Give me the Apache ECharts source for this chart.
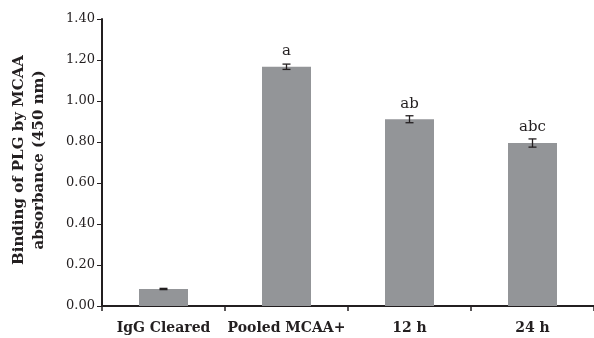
<!DOCTYPE html>
<html>
<head>
<meta charset="utf-8">
<script src="https://cdn.jsdelivr.net/npm/echarts@6/dist/echarts.min.js"></script>
<style>
  html, body { margin: 0; padding: 0; background: #fff; }
  #chart { width: 594px; height: 338px; }
</style>
</head>
<body>
<div id="chart"></div>
<script>
// Plasminogen binding by MCAA, absorbance at 450 nm
const categories = ['IgG Cleared', 'Pooled MCAA+', '12 h', '24 h'];
const absorbance = [0.083, 1.167, 0.911, 0.795];
const stdError = [0.003, 0.013, 0.017, 0.020];
const significance = ['', 'a', 'ab', 'abc'];
const yTicks = { min: 0, max: 1.4, interval: 0.2 };

const serif = "'DejaVu Serif', 'Liberation Serif', serif";
const ink = '#231f20';

const chart = echarts.init(document.getElementById('chart'), null, { renderer: 'canvas' });

chart.setOption({
  animation: false,
  backgroundColor: '#ffffff',
  grid: { left: 102, right: -2, top: 19, bottom: 32, containLabel: false },
  xAxis: {
    type: 'category',
    data: categories,
    boundaryGap: true,
    axisLine: { lineStyle: { color: ink, width: 2 } },
    axisTick: { show: true, interval: 0, length: 5, lineStyle: { color: ink, width: 1.5 } },
    axisLabel: {
      interval: 0,
      color: ink, fontFamily: serif, fontWeight: 'bold', fontSize: 14, margin: 15
    },
    splitLine: { show: false }
  },
  yAxis: {
    type: 'value',
    min: yTicks.min, max: yTicks.max, interval: yTicks.interval,
    axisLine: { show: true, lineStyle: { color: ink, width: 2 } },
    axisTick: { show: true, length: 5, lineStyle: { color: ink, width: 1 } },
    axisLabel: {
      color: ink, fontFamily: serif, fontSize: 13, margin: 7,
      formatter: v => v.toFixed(2)
    },
    splitLine: { show: false }
  },
  graphic: [{
    type: 'text',
    x: 29, y: 160,
    rotation: Math.PI / 2,
    style: {
      text: 'Binding of PLG by MCAA\nabsorbance (450 nm)',
      fill: ink,
      font: "bold 15px 'DejaVu Serif', 'Liberation Serif', serif",
      align: 'center',
      verticalAlign: 'middle',
      lineHeight: 20
    }
  }],
  series: [
    {
      type: 'bar',
      data: absorbance.map((v, i) => ({
        value: v,
        label: { show: !!significance[i], formatter: significance[i] }
      })),
      barWidth: 49,
      itemStyle: { color: '#939598' },
      label: {
        position: 'top', distance: 8, color: ink,
        fontFamily: serif, fontSize: 15
      },
      z: 2
    },
    {
      type: 'custom',
      data: absorbance.map((v, i) => [i, v, stdError[i]]),
      renderItem: function (params, api) {
        const x = api.value(0);
        const v = api.value(1);
        const e = api.value(2);
        const hi = api.coord([x, v + e]);
        const lo = api.coord([x, v - e]);
        const half = 4;
        const style = { stroke: ink, lineWidth: 1.3 };
        return {
          type: 'group',
          children: [
            { type: 'line', shape: { x1: hi[0], y1: hi[1], x2: lo[0], y2: lo[1] }, style },
            { type: 'line', shape: { x1: hi[0] - half, y1: hi[1], x2: hi[0] + half, y2: hi[1] }, style },
            { type: 'line', shape: { x1: lo[0] - half, y1: lo[1], x2: lo[0] + half, y2: lo[1] }, style }
          ]
        };
      },
      z: 3
    }
  ]
});
</script>
</body>
</html>
